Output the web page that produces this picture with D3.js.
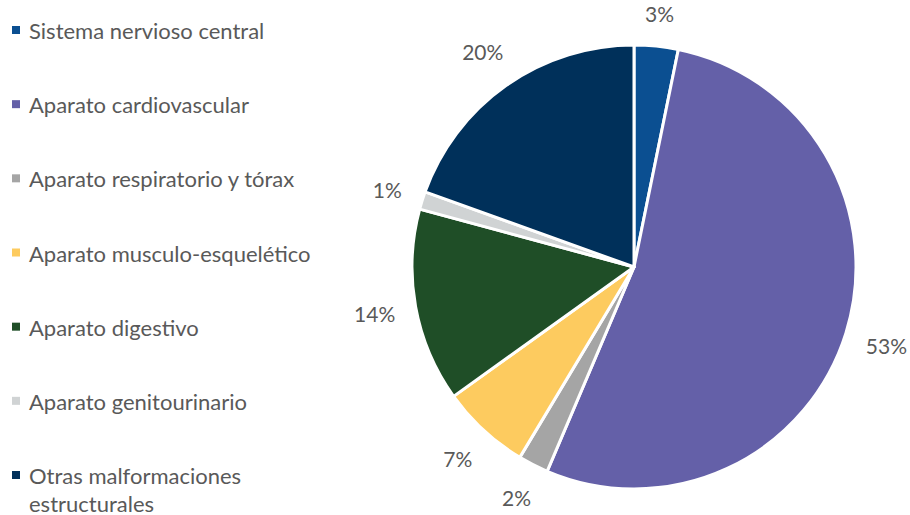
<!DOCTYPE html>
<html><head><meta charset="utf-8">
<script src="https://cdn.jsdelivr.net/npm/d3@7"></script>
<style>body{margin:0;background:#fff}svg{display:block}</style>
</head><body>
<svg id="c" width="910" height="515"></svg>
<script>
const categories = ["Sistema nervioso central","Aparato cardiovascular","Aparato respiratorio y tórax","Aparato musculo-esquelético","Aparato digestivo","Aparato genitourinario","Otras malformaciones estructurales"];
const values = [3.2, 53.2, 2.2, 6.5, 14.1, 1.3, 19.5];
const labels = ["3%","53%","2%","7%","14%","1%","20%"];
const colors = ["#0b4f91","#6460a8","#a5a5a5","#fdcb5f","#1f4e27","#d0d3d4","#00305a"];
const legendLines = [["Sistema nervioso central"],["Aparato cardiovascular"],["Aparato respiratorio y tórax"],["Aparato musculo-esquelético"],["Aparato digestivo"],["Aparato genitourinario"],["Otras malformaciones","estructurales"]];

const svg = d3.select("#c");
const cx = 634, cy = 267, R = 222, gap = 19;
const font = "Lato, 'Open Sans', sans-serif";
const pie = d3.pie().sort(null).value(d => d);
const arcs = pie(values);
const arc = d3.arc().innerRadius(0).outerRadius(R);
const g = svg.append("g").attr("transform", `translate(${cx},${cy})`);
g.selectAll("path").data(arcs).join("path")
  .attr("d", arc).attr("fill", (d,i) => colors[i])
  .attr("stroke", "#fff").attr("stroke-width", 3).attr("stroke-linejoin","round");
const lbl = g.selectAll("text").data(arcs).join("text")
  .attr("text-anchor","middle").attr("dominant-baseline","central")
  .attr("font-family", font).attr("font-size", 21).attr("fill","#595959")
  .text((d,i) => labels[i]);
lbl.each(function(d) {
  const bb = this.getBBox();
  const a = (d.startAngle + d.endAngle) / 2;
  const s = Math.sin(a), c = Math.cos(a);
  const r = R + gap + Math.abs(s) * bb.width / 2 + Math.abs(c) * bb.height / 2;
  d3.select(this).attr("transform", `translate(${r*s},${-r*c})`);
});

const y = d3.scalePoint().domain(categories).range([30, 475]);
const lg = svg.append("g");
categories.forEach((c,i) => {
  const yy = y(c);
  lg.append("rect").attr("x", 12).attr("y", yy-4).attr("width", 8).attr("height", 8).attr("fill", colors[i]);
  const t = lg.append("text").attr("x", 29).attr("y", yy).attr("dominant-baseline","central")
    .attr("font-family", font).attr("font-size", 22).attr("fill","#595959");
  legendLines[i].forEach((ln, j) => t.append("tspan").attr("x", 29).attr("dy", j ? 28 : 0).text(ln));
});
</script>
</body></html>
